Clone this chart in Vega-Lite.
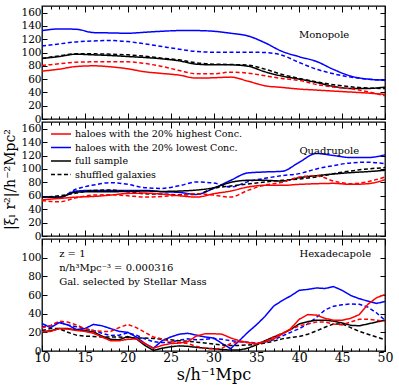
{
"$schema":"https://vega.github.io/schema/vega-lite/v6.json",
"padding":{"left":3,"top":4,"right":5,"bottom":2},
"bounds":"flush",
"spacing":3,
"config":{"view":{"stroke":"black","strokeWidth":1.3},"font":"DejaVu Serif","axis":{"domain":false,"grid":false,"tickColor":"black","labelColor":"black","titleColor":"black","labelFont":"DejaVu Serif","titleFont":"DejaVu Serif","titleFontWeight":"normal","labelOverlap":false,"labelFlush":false}},
"datasets":{
"mono":[
{"s":"lo","x":10,"y":133},{"s":"lo","x":12,"y":135.5},{"s":"lo","x":14,"y":135},{"s":"lo","x":16,"y":130},{"s":"lo","x":18,"y":129.5},{"s":"lo","x":20,"y":129},{"s":"lo","x":22,"y":130.5},{"s":"lo","x":24,"y":132},{"s":"lo","x":26,"y":133},{"s":"lo","x":28,"y":133},{"s":"lo","x":30,"y":132},{"s":"lo","x":32,"y":129},{"s":"lo","x":34,"y":125},{"s":"lo","x":36,"y":114.7},{"s":"lo","x":38,"y":101.7},{"s":"lo","x":40,"y":93.7},{"s":"lo","x":42,"y":86.6},{"s":"lo","x":44,"y":74.5},{"s":"lo","x":46,"y":64.6},{"s":"lo","x":48,"y":60},{"s":"lo","x":50,"y":58.6},
{"s":"losh","x":10,"y":110},{"s":"losh","x":12,"y":113},{"s":"losh","x":14,"y":116},{"s":"losh","x":16,"y":117.5},{"s":"losh","x":18,"y":118},{"s":"losh","x":20,"y":116.5},{"s":"losh","x":22,"y":113},{"s":"losh","x":24,"y":109},{"s":"losh","x":26,"y":105},{"s":"losh","x":28,"y":101.5},{"s":"losh","x":30,"y":100.5},{"s":"losh","x":32,"y":100.5},{"s":"losh","x":34,"y":100.5},{"s":"losh","x":36,"y":100},{"s":"losh","x":38,"y":96},{"s":"losh","x":40,"y":85},{"s":"losh","x":42,"y":75},{"s":"losh","x":44,"y":68},{"s":"losh","x":46,"y":63},{"s":"losh","x":48,"y":60},{"s":"losh","x":50,"y":58},
{"s":"full","x":10,"y":91},{"s":"full","x":12,"y":94},{"s":"full","x":14,"y":97.5},{"s":"full","x":16,"y":96.5},{"s":"full","x":18,"y":95.5},{"s":"full","x":20,"y":94},{"s":"full","x":22,"y":92.5},{"s":"full","x":24,"y":90.5},{"s":"full","x":26,"y":87.5},{"s":"full","x":28,"y":82.5},{"s":"full","x":30,"y":81.5},{"s":"full","x":32,"y":81.5},{"s":"full","x":34,"y":79.5},{"s":"full","x":36,"y":71},{"s":"full","x":38,"y":64.5},{"s":"full","x":40,"y":60},{"s":"full","x":42,"y":55},{"s":"full","x":44,"y":49},{"s":"full","x":46,"y":46},{"s":"full","x":48,"y":46},{"s":"full","x":50,"y":48},
{"s":"shuf","x":10,"y":91},{"s":"shuf","x":12,"y":95},{"s":"shuf","x":14,"y":98},{"s":"shuf","x":16,"y":98},{"s":"shuf","x":18,"y":97.5},{"s":"shuf","x":20,"y":96.5},{"s":"shuf","x":22,"y":94.5},{"s":"shuf","x":24,"y":91.5},{"s":"shuf","x":26,"y":89},{"s":"shuf","x":28,"y":84.5},{"s":"shuf","x":30,"y":82.5},{"s":"shuf","x":32,"y":82},{"s":"shuf","x":34,"y":81},{"s":"shuf","x":36,"y":75},{"s":"shuf","x":38,"y":67},{"s":"shuf","x":40,"y":61},{"s":"shuf","x":42,"y":56},{"s":"shuf","x":44,"y":51.5},{"s":"shuf","x":46,"y":48.5},{"s":"shuf","x":48,"y":46.5},{"s":"shuf","x":50,"y":46},
{"s":"hish","x":10,"y":80.5},{"s":"hish","x":12,"y":83},{"s":"hish","x":14,"y":85.5},{"s":"hish","x":16,"y":86},{"s":"hish","x":18,"y":86},{"s":"hish","x":20,"y":86},{"s":"hish","x":22,"y":83.5},{"s":"hish","x":24,"y":79},{"s":"hish","x":26,"y":73},{"s":"hish","x":28,"y":68},{"s":"hish","x":30,"y":68},{"s":"hish","x":32,"y":70.5},{"s":"hish","x":34,"y":69},{"s":"hish","x":36,"y":65},{"s":"hish","x":38,"y":61},{"s":"hish","x":40,"y":58},{"s":"hish","x":42,"y":52},{"s":"hish","x":44,"y":48},{"s":"hish","x":46,"y":45.5},{"s":"hish","x":48,"y":41},{"s":"hish","x":50,"y":35},
{"s":"hi","x":10,"y":72},{"s":"hi","x":12,"y":75},{"s":"hi","x":14,"y":79},{"s":"hi","x":16,"y":80},{"s":"hi","x":18,"y":78.5},{"s":"hi","x":20,"y":75.5},{"s":"hi","x":22,"y":71},{"s":"hi","x":24,"y":68.5},{"s":"hi","x":26,"y":66},{"s":"hi","x":28,"y":61.5},{"s":"hi","x":30,"y":62},{"s":"hi","x":32,"y":63},{"s":"hi","x":34,"y":57},{"s":"hi","x":36,"y":50},{"s":"hi","x":38,"y":47.5},{"s":"hi","x":40,"y":45},{"s":"hi","x":42,"y":43.5},{"s":"hi","x":44,"y":42},{"s":"hi","x":46,"y":40.5},{"s":"hi","x":48,"y":39},{"s":"hi","x":50,"y":37}
],
"quad":[
{"s":"lo","x":10,"y":58.5},{"s":"lo","x":12,"y":57.5},{"s":"lo","x":14,"y":67},{"s":"lo","x":16,"y":68},{"s":"lo","x":18,"y":68},{"s":"lo","x":20,"y":68},{"s":"lo","x":22,"y":68},{"s":"lo","x":24,"y":66},{"s":"lo","x":26,"y":65},{"s":"lo","x":28,"y":62},{"s":"lo","x":30,"y":71},{"s":"lo","x":32,"y":83},{"s":"lo","x":34,"y":94},{"s":"lo","x":36,"y":95.5},{"s":"lo","x":38,"y":96.5},{"s":"lo","x":40,"y":110},{"s":"lo","x":42,"y":123},{"s":"lo","x":44,"y":120},{"s":"lo","x":46,"y":117},{"s":"lo","x":48,"y":117},{"s":"lo","x":50,"y":121},
{"s":"losh","x":10,"y":58},{"s":"losh","x":12,"y":58},{"s":"losh","x":14,"y":70},{"s":"losh","x":16,"y":76},{"s":"losh","x":18,"y":79.5},{"s":"losh","x":20,"y":77},{"s":"losh","x":22,"y":72},{"s":"losh","x":24,"y":71},{"s":"losh","x":26,"y":75},{"s":"losh","x":28,"y":80.5},{"s":"losh","x":30,"y":79},{"s":"losh","x":32,"y":73},{"s":"losh","x":34,"y":81},{"s":"losh","x":36,"y":86},{"s":"losh","x":38,"y":90},{"s":"losh","x":40,"y":93},{"s":"losh","x":42,"y":100},{"s":"losh","x":44,"y":105},{"s":"losh","x":46,"y":109},{"s":"losh","x":48,"y":110},{"s":"losh","x":50,"y":108},
{"s":"full","x":10,"y":58.5},{"s":"full","x":12,"y":58},{"s":"full","x":14,"y":65.5},{"s":"full","x":16,"y":66},{"s":"full","x":18,"y":66},{"s":"full","x":20,"y":66.5},{"s":"full","x":22,"y":67},{"s":"full","x":24,"y":66.5},{"s":"full","x":26,"y":67},{"s":"full","x":28,"y":68.5},{"s":"full","x":30,"y":72},{"s":"full","x":32,"y":80},{"s":"full","x":34,"y":83},{"s":"full","x":36,"y":83},{"s":"full","x":38,"y":82},{"s":"full","x":40,"y":87},{"s":"full","x":42,"y":90},{"s":"full","x":44,"y":92.5},{"s":"full","x":46,"y":94.5},{"s":"full","x":48,"y":96},{"s":"full","x":50,"y":98},
{"s":"shuf","x":10,"y":58},{"s":"shuf","x":12,"y":60},{"s":"shuf","x":14,"y":64},{"s":"shuf","x":16,"y":68},{"s":"shuf","x":18,"y":68.5},{"s":"shuf","x":20,"y":66},{"s":"shuf","x":22,"y":63},{"s":"shuf","x":24,"y":62.5},{"s":"shuf","x":26,"y":61.5},{"s":"shuf","x":28,"y":62},{"s":"shuf","x":30,"y":71},{"s":"shuf","x":32,"y":74.5},{"s":"shuf","x":34,"y":77.5},{"s":"shuf","x":36,"y":80.5},{"s":"shuf","x":38,"y":83},{"s":"shuf","x":40,"y":85},{"s":"shuf","x":42,"y":88},{"s":"shuf","x":44,"y":93},{"s":"shuf","x":46,"y":97},{"s":"shuf","x":48,"y":100},{"s":"shuf","x":50,"y":102},
{"s":"hish","x":10,"y":53},{"s":"hish","x":12,"y":51},{"s":"hish","x":14,"y":57},{"s":"hish","x":16,"y":61},{"s":"hish","x":18,"y":61.5},{"s":"hish","x":20,"y":60},{"s":"hish","x":22,"y":58},{"s":"hish","x":24,"y":59},{"s":"hish","x":26,"y":61},{"s":"hish","x":28,"y":63},{"s":"hish","x":30,"y":61},{"s":"hish","x":32,"y":58},{"s":"hish","x":34,"y":68},{"s":"hish","x":36,"y":76},{"s":"hish","x":38,"y":80},{"s":"hish","x":40,"y":88},{"s":"hish","x":42,"y":90},{"s":"hish","x":44,"y":82},{"s":"hish","x":46,"y":78},{"s":"hish","x":48,"y":81},{"s":"hish","x":50,"y":88},
{"s":"hi","x":10,"y":54},{"s":"hi","x":12,"y":56},{"s":"hi","x":14,"y":58},{"s":"hi","x":16,"y":59},{"s":"hi","x":18,"y":61},{"s":"hi","x":20,"y":63.5},{"s":"hi","x":22,"y":64},{"s":"hi","x":24,"y":62.5},{"s":"hi","x":26,"y":60},{"s":"hi","x":28,"y":58},{"s":"hi","x":30,"y":63},{"s":"hi","x":32,"y":67},{"s":"hi","x":34,"y":73},{"s":"hi","x":36,"y":75.5},{"s":"hi","x":38,"y":75.5},{"s":"hi","x":40,"y":77},{"s":"hi","x":42,"y":78},{"s":"hi","x":44,"y":78.5},{"s":"hi","x":46,"y":77},{"s":"hi","x":48,"y":78},{"s":"hi","x":50,"y":84}
],
"hexa":[
{"s":"lo","x":10,"y":29.5},{"s":"lo","x":11,"y":25},{"s":"lo","x":12,"y":30.5},{"s":"lo","x":13,"y":28},{"s":"lo","x":14,"y":23},{"s":"lo","x":15,"y":24},{"s":"lo","x":16,"y":28.5},{"s":"lo","x":17,"y":27},{"s":"lo","x":18,"y":24},{"s":"lo","x":19,"y":21},{"s":"lo","x":20,"y":20},{"s":"lo","x":21,"y":15},{"s":"lo","x":22,"y":8},{"s":"lo","x":23,"y":3},{"s":"lo","x":24,"y":11},{"s":"lo","x":25,"y":15},{"s":"lo","x":26,"y":18},{"s":"lo","x":27,"y":19},{"s":"lo","x":28,"y":17},{"s":"lo","x":29,"y":15},{"s":"lo","x":30,"y":14},{"s":"lo","x":31,"y":8},{"s":"lo","x":32,"y":2.5},{"s":"lo","x":33,"y":11},{"s":"lo","x":34,"y":20},{"s":"lo","x":35,"y":28},{"s":"lo","x":36,"y":37},{"s":"lo","x":37,"y":48},{"s":"lo","x":38,"y":54},{"s":"lo","x":39,"y":59},{"s":"lo","x":40,"y":65},{"s":"lo","x":41,"y":66},{"s":"lo","x":42,"y":67.5},{"s":"lo","x":43,"y":67},{"s":"lo","x":44,"y":69},{"s":"lo","x":45,"y":65},{"s":"lo","x":46,"y":59.5},{"s":"lo","x":47,"y":56},{"s":"lo","x":48,"y":53.5},{"s":"lo","x":49,"y":51},{"s":"lo","x":50,"y":53},
{"s":"losh","x":10,"y":26},{"s":"losh","x":11,"y":27},{"s":"losh","x":12,"y":31},{"s":"losh","x":13,"y":28},{"s":"losh","x":14,"y":26},{"s":"losh","x":15,"y":24},{"s":"losh","x":16,"y":22},{"s":"losh","x":17,"y":19},{"s":"losh","x":18,"y":16.5},{"s":"losh","x":19,"y":17},{"s":"losh","x":20,"y":19.5},{"s":"losh","x":21,"y":17},{"s":"losh","x":22,"y":13},{"s":"losh","x":23,"y":10},{"s":"losh","x":24,"y":9},{"s":"losh","x":25,"y":9.5},{"s":"losh","x":26,"y":11.5},{"s":"losh","x":27,"y":13},{"s":"losh","x":28,"y":12},{"s":"losh","x":29,"y":12.5},{"s":"losh","x":30,"y":13.5},{"s":"losh","x":31,"y":12.5},{"s":"losh","x":32,"y":11},{"s":"losh","x":33,"y":10},{"s":"losh","x":34,"y":9.5},{"s":"losh","x":35,"y":8.5},{"s":"losh","x":36,"y":9.5},{"s":"losh","x":37,"y":12},{"s":"losh","x":38,"y":16},{"s":"losh","x":39,"y":20},{"s":"losh","x":40,"y":24},{"s":"losh","x":41,"y":29},{"s":"losh","x":42,"y":36},{"s":"losh","x":43,"y":44},{"s":"losh","x":44,"y":48},{"s":"losh","x":45,"y":49.5},{"s":"losh","x":46,"y":50.5},{"s":"losh","x":47,"y":50},{"s":"losh","x":48,"y":47},{"s":"losh","x":49,"y":41},{"s":"losh","x":50,"y":33},
{"s":"full","x":10,"y":21},{"s":"full","x":11,"y":21.5},{"s":"full","x":12,"y":24},{"s":"full","x":13,"y":24},{"s":"full","x":14,"y":22.5},{"s":"full","x":15,"y":22},{"s":"full","x":16,"y":20.5},{"s":"full","x":17,"y":16},{"s":"full","x":18,"y":12.5},{"s":"full","x":19,"y":12},{"s":"full","x":20,"y":15.5},{"s":"full","x":21,"y":13},{"s":"full","x":22,"y":6},{"s":"full","x":23,"y":0.5},{"s":"full","x":24,"y":3},{"s":"full","x":25,"y":4.5},{"s":"full","x":26,"y":5.5},{"s":"full","x":27,"y":5},{"s":"full","x":28,"y":4},{"s":"full","x":29,"y":3},{"s":"full","x":30,"y":2.5},{"s":"full","x":31,"y":1.5},{"s":"full","x":32,"y":1},{"s":"full","x":33,"y":1},{"s":"full","x":34,"y":3},{"s":"full","x":35,"y":6.5},{"s":"full","x":36,"y":11},{"s":"full","x":37,"y":15},{"s":"full","x":38,"y":18.5},{"s":"full","x":39,"y":23},{"s":"full","x":40,"y":29},{"s":"full","x":41,"y":31.5},{"s":"full","x":42,"y":33},{"s":"full","x":43,"y":33},{"s":"full","x":44,"y":32},{"s":"full","x":45,"y":30},{"s":"full","x":46,"y":27.5},{"s":"full","x":47,"y":27},{"s":"full","x":48,"y":29},{"s":"full","x":49,"y":31},{"s":"full","x":50,"y":33},
{"s":"shuf","x":10,"y":22},{"s":"shuf","x":11,"y":24},{"s":"shuf","x":12,"y":24},{"s":"shuf","x":13,"y":20},{"s":"shuf","x":14,"y":17},{"s":"shuf","x":15,"y":16},{"s":"shuf","x":16,"y":15.5},{"s":"shuf","x":17,"y":15},{"s":"shuf","x":18,"y":15},{"s":"shuf","x":19,"y":15},{"s":"shuf","x":20,"y":14.5},{"s":"shuf","x":21,"y":14},{"s":"shuf","x":22,"y":14},{"s":"shuf","x":23,"y":13.5},{"s":"shuf","x":24,"y":12.5},{"s":"shuf","x":25,"y":12},{"s":"shuf","x":26,"y":11},{"s":"shuf","x":27,"y":10.5},{"s":"shuf","x":28,"y":9.5},{"s":"shuf","x":29,"y":8.5},{"s":"shuf","x":30,"y":7.5},{"s":"shuf","x":31,"y":6.5},{"s":"shuf","x":32,"y":6},{"s":"shuf","x":33,"y":6},{"s":"shuf","x":34,"y":6.5},{"s":"shuf","x":35,"y":7},{"s":"shuf","x":36,"y":8.5},{"s":"shuf","x":37,"y":10.5},{"s":"shuf","x":38,"y":13},{"s":"shuf","x":39,"y":14.5},{"s":"shuf","x":40,"y":15.5},{"s":"shuf","x":41,"y":18},{"s":"shuf","x":42,"y":21.5},{"s":"shuf","x":43,"y":25.5},{"s":"shuf","x":44,"y":29},{"s":"shuf","x":45,"y":29},{"s":"shuf","x":46,"y":25},{"s":"shuf","x":47,"y":21},{"s":"shuf","x":48,"y":18},{"s":"shuf","x":49,"y":15},{"s":"shuf","x":50,"y":12},
{"s":"hish","x":10,"y":25},{"s":"hish","x":11,"y":27},{"s":"hish","x":12,"y":32},{"s":"hish","x":13,"y":31},{"s":"hish","x":14,"y":28},{"s":"hish","x":15,"y":24},{"s":"hish","x":16,"y":22},{"s":"hish","x":17,"y":21},{"s":"hish","x":18,"y":21},{"s":"hish","x":19,"y":25},{"s":"hish","x":20,"y":28.5},{"s":"hish","x":21,"y":25},{"s":"hish","x":22,"y":20},{"s":"hish","x":23,"y":15},{"s":"hish","x":24,"y":13},{"s":"hish","x":25,"y":10},{"s":"hish","x":26,"y":9},{"s":"hish","x":27,"y":8},{"s":"hish","x":28,"y":5},{"s":"hish","x":29,"y":3},{"s":"hish","x":30,"y":2},{"s":"hish","x":31,"y":3},{"s":"hish","x":32,"y":8},{"s":"hish","x":33,"y":10},{"s":"hish","x":34,"y":9},{"s":"hish","x":35,"y":7},{"s":"hish","x":36,"y":10},{"s":"hish","x":37,"y":15},{"s":"hish","x":38,"y":19},{"s":"hish","x":39,"y":23},{"s":"hish","x":40,"y":27},{"s":"hish","x":41,"y":29},{"s":"hish","x":42,"y":31},{"s":"hish","x":43,"y":31},{"s":"hish","x":44,"y":29},{"s":"hish","x":45,"y":28},{"s":"hish","x":46,"y":31},{"s":"hish","x":47,"y":34},{"s":"hish","x":48,"y":34},{"s":"hish","x":49,"y":33},{"s":"hish","x":50,"y":32},
{"s":"hi","x":10,"y":20.5},{"s":"hi","x":11,"y":21},{"s":"hi","x":12,"y":24},{"s":"hi","x":13,"y":23.5},{"s":"hi","x":14,"y":22},{"s":"hi","x":15,"y":21},{"s":"hi","x":16,"y":19},{"s":"hi","x":17,"y":15},{"s":"hi","x":18,"y":11},{"s":"hi","x":19,"y":11},{"s":"hi","x":20,"y":12.5},{"s":"hi","x":21,"y":13},{"s":"hi","x":22,"y":8},{"s":"hi","x":23,"y":3},{"s":"hi","x":24,"y":6},{"s":"hi","x":25,"y":8},{"s":"hi","x":26,"y":8.5},{"s":"hi","x":27,"y":10},{"s":"hi","x":28,"y":16},{"s":"hi","x":29,"y":18.5},{"s":"hi","x":30,"y":18.5},{"s":"hi","x":31,"y":18},{"s":"hi","x":32,"y":14},{"s":"hi","x":33,"y":11},{"s":"hi","x":34,"y":9},{"s":"hi","x":35,"y":8},{"s":"hi","x":36,"y":10},{"s":"hi","x":37,"y":13},{"s":"hi","x":38,"y":18},{"s":"hi","x":39,"y":24},{"s":"hi","x":40,"y":34},{"s":"hi","x":41,"y":39},{"s":"hi","x":42,"y":38.5},{"s":"hi","x":43,"y":35},{"s":"hi","x":44,"y":33},{"s":"hi","x":45,"y":33},{"s":"hi","x":46,"y":35},{"s":"hi","x":47,"y":39},{"s":"hi","x":48,"y":50},{"s":"hi","x":49,"y":57},{"s":"hi","x":50,"y":60.5}
]
},
"vconcat":[
{"width":343,"height":113,
"layer":[
{"data":{"name":"mono"},"mark":{"type":"line","interpolate":"monotone","strokeWidth":1.5,"clip":true},
"encoding":{
"x":{"field":"x","type":"quantitative","scale":{"domain":[10,50],"nice":false,"zero":false},"axis":{"orient":"bottom","values":[10,11,12,13,14,15,16,17,18,19,20,21,22,23,24,25,26,27,28,29,30,31,32,33,34,35,36,37,38,39,40,41,42,43,44,45,46,47,48,49,50],"labels":false,"title":null,"tickSize":{"condition":{"test":"datum.value % 5 === 0","value":-6},"value":-3}}},
"y":{"field":"y","type":"quantitative","scale":{"domain":[0,170],"nice":false,"zero":false},"axis":{"orient":"left","values":[0,20,40,60,80,100,120,140,160],"title":null,"tickSize":-5,"labelFontSize":10.5,"labelPadding":6}},
"color":{"field":"s","type":"nominal","scale":{"domain":["hi","lo","full","shuf","hish","losh"],"range":["#ff0000","#0000ff","#000000","#000000","#ff0000","#0000ff"]},"legend":null},
"strokeDash":{"field":"s","type":"nominal","scale":{"domain":["hi","lo","full","shuf","hish","losh"],"range":[[1,0],[1,0],[1,0],[4,2.5],[4,2.5],[4,2.5]]},"legend":null}}},
{"data":{"values":[{"x":42.9,"y":126.3,"t":"Monopole"}]},"mark":{"type":"text","font":"DejaVu Serif","fontSize":10,"color":"black","align":"center","baseline":"middle"},
"encoding":{
"x":{"field":"x","type":"quantitative","scale":{"domain":[10,50],"nice":false,"zero":false},"axis":{"orient":"top","values":[10,11,12,13,14,15,16,17,18,19,20,21,22,23,24,25,26,27,28,29,30,31,32,33,34,35,36,37,38,39,40,41,42,43,44,45,46,47,48,49,50],"labels":false,"title":null,"tickSize":{"condition":{"test":"datum.value % 5 === 0","value":-6},"value":-3}}},
"y":{"field":"y","type":"quantitative","scale":{"domain":[0,170],"nice":false,"zero":false},"axis":{"orient":"right","values":[0,20,40,60,80,100,120,140,160],"labels":false,"title":null,"tickSize":-5}},
"text":{"field":"t"}}}
],
"resolve":{"axis":{"x":"independent","y":"independent"}}},
{"width":343,"height":114,
"layer":[
{"data":{"name":"quad"},"mark":{"type":"line","interpolate":"monotone","strokeWidth":1.5,"clip":true},
"encoding":{
"x":{"field":"x","type":"quantitative","scale":{"domain":[10,50],"nice":false,"zero":false},"axis":{"orient":"bottom","values":[10,11,12,13,14,15,16,17,18,19,20,21,22,23,24,25,26,27,28,29,30,31,32,33,34,35,36,37,38,39,40,41,42,43,44,45,46,47,48,49,50],"labels":false,"title":null,"tickSize":{"condition":{"test":"datum.value % 5 === 0","value":-6},"value":-3}}},
"y":{"field":"y","type":"quantitative","scale":{"domain":[0,170],"nice":false,"zero":false},"axis":{"orient":"left","values":[0,20,40,60,80,100,120,140,160],"title":"|ξₗ r²|/h⁻²Mpc²","titleFontSize":14,"titlePadding":3,"tickSize":-5,"labelFontSize":10.5,"labelPadding":6}},
"color":{"field":"s","type":"nominal","scale":{"domain":["hi","lo","full","shuf","hish","losh"],"range":["#ff0000","#0000ff","#000000","#000000","#ff0000","#0000ff"]},
"legend":{"orient":"none","legendX":13,"legendY":6,"values":["hi","lo","full","shuf"],"title":null,"symbolType":"M-2,0H2","symbolSize":100,"symbolStrokeWidth":1.5,"symbolFillColor":"transparent","labelFont":"DejaVu Serif","labelFontSize":9.5,"labelColor":"black","rowPadding":2.5,"labelOffset":8,"padding":0,"labelLimit":300,
"labelExpr":"datum.value == 'hi' ? 'haloes with the 20% highest Conc.' : datum.value == 'lo' ? 'haloes with the 20% lowest Conc.' : datum.value == 'full' ? 'full sample' : 'shuffled galaxies'",
"encode":{"symbols":{"update":{"strokeDash":{"signal":"datum.value === 'shuf' ? [4,2.5] : [1,0]"}}}}}},
"strokeDash":{"field":"s","type":"nominal","scale":{"domain":["hi","lo","full","shuf","hish","losh"],"range":[[1,0],[1,0],[1,0],[4,2.5],[4,2.5],[4,2.5]]},"legend":null}}},
{"data":{"values":[{"x":43.5,"y":126.9,"t":"Quadrupole"}]},"mark":{"type":"text","font":"DejaVu Serif","fontSize":10,"color":"black","align":"center","baseline":"middle"},
"encoding":{
"x":{"field":"x","type":"quantitative","scale":{"domain":[10,50],"nice":false,"zero":false},"axis":{"orient":"top","values":[10,11,12,13,14,15,16,17,18,19,20,21,22,23,24,25,26,27,28,29,30,31,32,33,34,35,36,37,38,39,40,41,42,43,44,45,46,47,48,49,50],"labels":false,"title":null,"tickSize":{"condition":{"test":"datum.value % 5 === 0","value":-6},"value":-3}}},
"y":{"field":"y","type":"quantitative","scale":{"domain":[0,170],"nice":false,"zero":false},"axis":{"orient":"right","values":[0,20,40,60,80,100,120,140,160],"labels":false,"title":null,"tickSize":-5}},
"text":{"field":"t"}}}
],
"resolve":{"axis":{"x":"independent","y":"independent"}}},
{"width":343,"height":112,
"layer":[
{"data":{"name":"hexa"},"mark":{"type":"line","strokeWidth":1.5,"clip":true},
"encoding":{
"x":{"field":"x","type":"quantitative","scale":{"domain":[10,50],"nice":false,"zero":false},"axis":{"orient":"bottom","values":[10,11,12,13,14,15,16,17,18,19,20,21,22,23,24,25,26,27,28,29,30,31,32,33,34,35,36,37,38,39,40,41,42,43,44,45,46,47,48,49,50],"labelExpr":"datum.value % 5 === 0 ? datum.label : ''","labelFontSize":12.5,"labelPadding":6,"title":"s/h⁻¹Mpc","titleFontSize":16,"titlePadding":0,"tickSize":{"condition":{"test":"datum.value % 5 === 0","value":-6},"value":-3}}},
"y":{"field":"y","type":"quantitative","scale":{"domain":[0,120],"nice":false,"zero":false},"axis":{"orient":"left","values":[0,20,40,60,80,100],"title":null,"tickSize":-5,"labelFontSize":10.5,"labelPadding":6}},
"color":{"field":"s","type":"nominal","scale":{"domain":["hi","lo","full","shuf","hish","losh"],"range":["#ff0000","#0000ff","#000000","#000000","#ff0000","#0000ff"]},"legend":null},
"strokeDash":{"field":"s","type":"nominal","scale":{"domain":["hi","lo","full","shuf","hish","losh"],"range":[[1,0],[1,0],[1,0],[4,2.5],[4,2.5],[4,2.5]]},"legend":null}}},
{"data":{"values":[{"x":44.2,"y":104.3,"t":"Hexadecapole","a":"center"},{"x":12,"y":104.3,"t":"z = 1","a":"left"},{"x":12,"y":89.3,"t":"n/h³Mpc⁻³ = 0.000316","a":"left"},{"x":12,"y":74.3,"t":"Gal.  selected by Stellar Mass","a":"left"}]},
"mark":{"type":"text","font":"DejaVu Serif","fontSize":10,"color":"black","baseline":"middle","align":{"expr":"datum.a"}},
"encoding":{
"x":{"field":"x","type":"quantitative","scale":{"domain":[10,50],"nice":false,"zero":false},"axis":{"orient":"top","values":[10,11,12,13,14,15,16,17,18,19,20,21,22,23,24,25,26,27,28,29,30,31,32,33,34,35,36,37,38,39,40,41,42,43,44,45,46,47,48,49,50],"labels":false,"title":null,"tickSize":{"condition":{"test":"datum.value % 5 === 0","value":-6},"value":-3}}},
"y":{"field":"y","type":"quantitative","scale":{"domain":[0,120],"nice":false,"zero":false},"axis":{"orient":"right","values":[0,20,40,60,80,100],"labels":false,"title":null,"tickSize":-5}},
"text":{"field":"t"}}}
],
"resolve":{"axis":{"x":"independent","y":"independent"}}}
],
"resolve":{"scale":{"color":"independent","strokeDash":"independent"},"legend":{"color":"independent","strokeDash":"independent"}}
}
